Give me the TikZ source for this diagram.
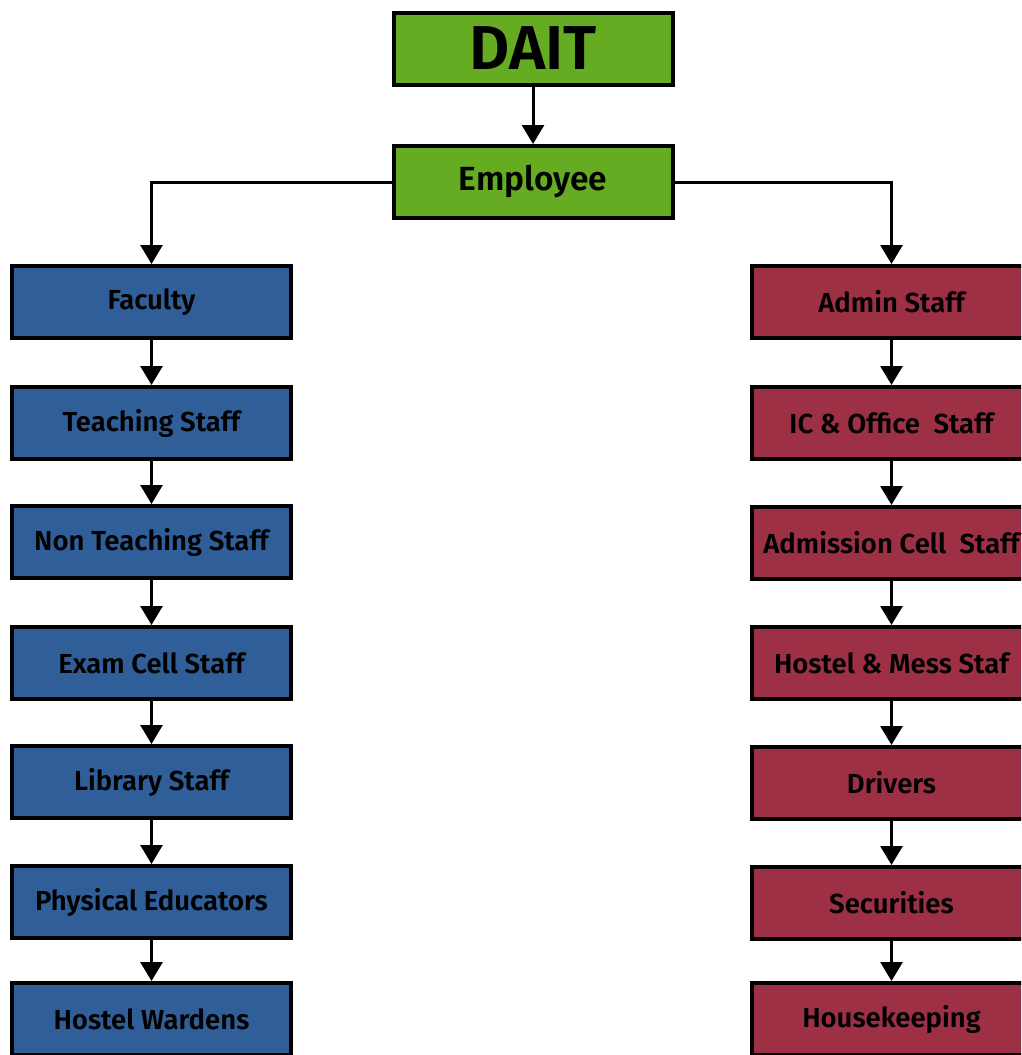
\documentclass[tikz,border=0pt]{standalone}
\usepackage{fontspec}
\setmainfont{Fira Sans}
\newfontfamily\boxfont{Fira Sans SemiBold}
\usetikzlibrary{arrows.meta}

\newlength{\du}
\setlength{\du}{1pt}

\definecolor{daitgreen}{rgb}{0.400000, 0.675000, 0.133000}
\definecolor{facblue}{rgb}{0.184000, 0.369000, 0.596000}
\definecolor{admred}{rgb}{0.616000, 0.188000, 0.271000}

\tikzset{
  orgbox/.style={draw=black, line width=4\du, minimum width=279\du, minimum height=72\du,
    inner sep=0pt, font=\boxfont\fontsize{27.5}{32}\selectfont, text=black},
  topbox/.style={orgbox, fill=daitgreen},
  leftbox/.style={orgbox, fill=facblue},
  rightbox/.style={orgbox, fill=admred},
  link/.style={line width=3\du, -{Triangle[width=22pt,length=19pt]}}
}

\begin{document}
\begin{tikzpicture}
\pgftransformxscale{1.000000}
\pgftransformyscale{-1.000000}
\useasboundingbox (0\du,0\du) rectangle (1021\du,1055\du);
\clip (0\du,0\du) rectangle (1021\du,1055\du);
% top of the tree
\node[topbox, font=\boxfont\fontsize{62}{70}\selectfont] (dait) at (533.000000\du,48.500000\du){DAIT};
\node[topbox, font=\boxfont\fontsize{33.5}{38}\selectfont] (employee) at (533.000000\du,182.000000\du){Employee};
% left column
\node[leftbox] (faculty) at (151.500000\du,302.000000\du){Faculty};
\node[leftbox] (teaching) at (151.500000\du,423.000000\du){Teaching Staff};
\node[leftbox] (nonteaching) at (151.500000\du,542.000000\du){Non Teaching Staff};
\node[leftbox] (examcell) at (151.500000\du,663.000000\du){Exam Cell Staff};
\node[leftbox] (library) at (151.500000\du,782.000000\du){Library Staff};
\node[leftbox] (physical) at (151.500000\du,902.000000\du){Physical Educators};
\node[leftbox] (wardens) at (151.500000\du,1019.000000\du){Hostel Wardens};
% right column
\node[rightbox] (admin) at (891.500000\du,302.000000\du){Admin Staff};
\node[rightbox] (office) at (891.500000\du,423.000000\du){IC \& Office~~Staff};
\node[rightbox] (admission) at (891.500000\du,543.000000\du){Admission Cell~~Staff};
\node[rightbox] (mess) at (891.500000\du,663.000000\du){Hostel \& Mess Staf};
\node[rightbox] (drivers) at (891.500000\du,783.000000\du){Drivers};
\node[rightbox] (securities) at (891.500000\du,903.000000\du){Securities};
\node[rightbox] (housekeeping) at (891.500000\du,1019.000000\du){Housekeeping};
% connectors
\draw[link] (dait) -- (employee);
\draw[link] (employee.west) -| (faculty.north);
\draw[link] (employee.east) -| (admin.north);
\foreach \a/\b in {faculty/teaching, teaching/nonteaching, nonteaching/examcell,
  examcell/library, library/physical, physical/wardens,
  admin/office, office/admission, admission/mess, mess/drivers,
  drivers/securities, securities/housekeeping}
  \draw[link] (\a) -- (\b);
\end{tikzpicture}
\end{document}
